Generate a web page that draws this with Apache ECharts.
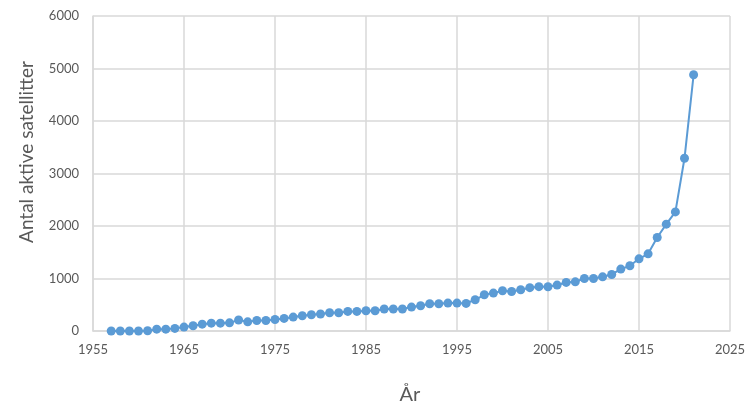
<!DOCTYPE html>
<html>
<head>
<meta charset="utf-8">
<script src="https://cdn.jsdelivr.net/npm/echarts@6/dist/echarts.min.js"></script>
<style>html,body{margin:0;padding:0;background:#fff;}#c{width:750px;height:408px;}</style>
</head>
<body>
<div id="c"></div>
<script>
var years = [1957,1958,1959,1960,1961,1962,1963,1964,1965,1966,1967,1968,1969,1970,
  1971,1972,1973,1974,1975,1976,1977,1978,1979,1980,1981,1982,1983,1984,1985,1986,
  1987,1988,1989,1990,1991,1992,1993,1994,1995,1996,1997,1998,1999,2000,2001,2002,
  2003,2004,2005,2006,2007,2008,2009,2010,2011,2012,2013,2014,2015,2016,2017,2018,
  2019,2020,2021];
var satellites = [0,0,0,0,5,35,35,50,75,100,130,150,150,155,
  210,175,200,200,220,240,265,290,310,323,348,348,373,373,386,386,
  418,418,418,456,481,519,519,532,532,525,595,690,722,766,753,785,
  825,845,843,875,925,937,1000,1000,1032,1077,1179,1242,1375,1470,1780,2035,
  2269,3290,4880];
var xTicks = {min:1955, max:2025, step:10};
var yTicks = {min:0, max:6000, step:1000};
var yTitle = 'Antal aktive satellitter';
var xTitle = 'År';

var data = years.map(function(y,i){return [y, satellites[i]];});
var font = 'Lato, "Open Sans", sans-serif';
var chart = echarts.init(document.getElementById('c'));
chart.setOption({
  animation:false,
  grid:{left:93, right:20, top:16, bottom:77, containLabel:false, outerBoundsMode:'none'},
  xAxis:{type:'value', min:xTicks.min, max:xTicks.max, interval:xTicks.step,
    axisLine:{show:true, lineStyle:{color:'#d9d9d9', width:1.5}},
    axisTick:{show:false},
    axisLabel:{color:'#595959', fontSize:13, fontFamily:font, margin:12,
      formatter:function(v){return String(v);}},
    splitLine:{show:true, lineStyle:{color:'#d9d9d9', width:1.5}}},
  yAxis:{type:'value', min:yTicks.min, max:yTicks.max, interval:yTicks.step,
    axisLine:{show:true, lineStyle:{color:'#d9d9d9', width:1.5}},
    axisTick:{show:false},
    axisLabel:{color:'#595959', fontSize:13, fontFamily:font, margin:14,
      formatter:function(v){return String(v);}},
    splitLine:{show:true, lineStyle:{color:'#d9d9d9', width:1.5}}},
  graphic:[
    {type:'text', x:27, y:152, rotation:Math.PI/2,
      style:{text:yTitle, fontSize:19, fill:'#595959', fontFamily:font, align:'center', verticalAlign:'middle'}},
    {type:'text', x:410, y:395,
      style:{text:xTitle, fontSize:20, fill:'#595959', fontFamily:font, align:'center', verticalAlign:'middle'}}
  ],
  series:[{type:'line', data:data, symbol:'circle', symbolSize:9,
    itemStyle:{color:'#5B9BD5'}, lineStyle:{color:'#5B9BD5', width:2}}]
});
</script>
</body>
</html>
